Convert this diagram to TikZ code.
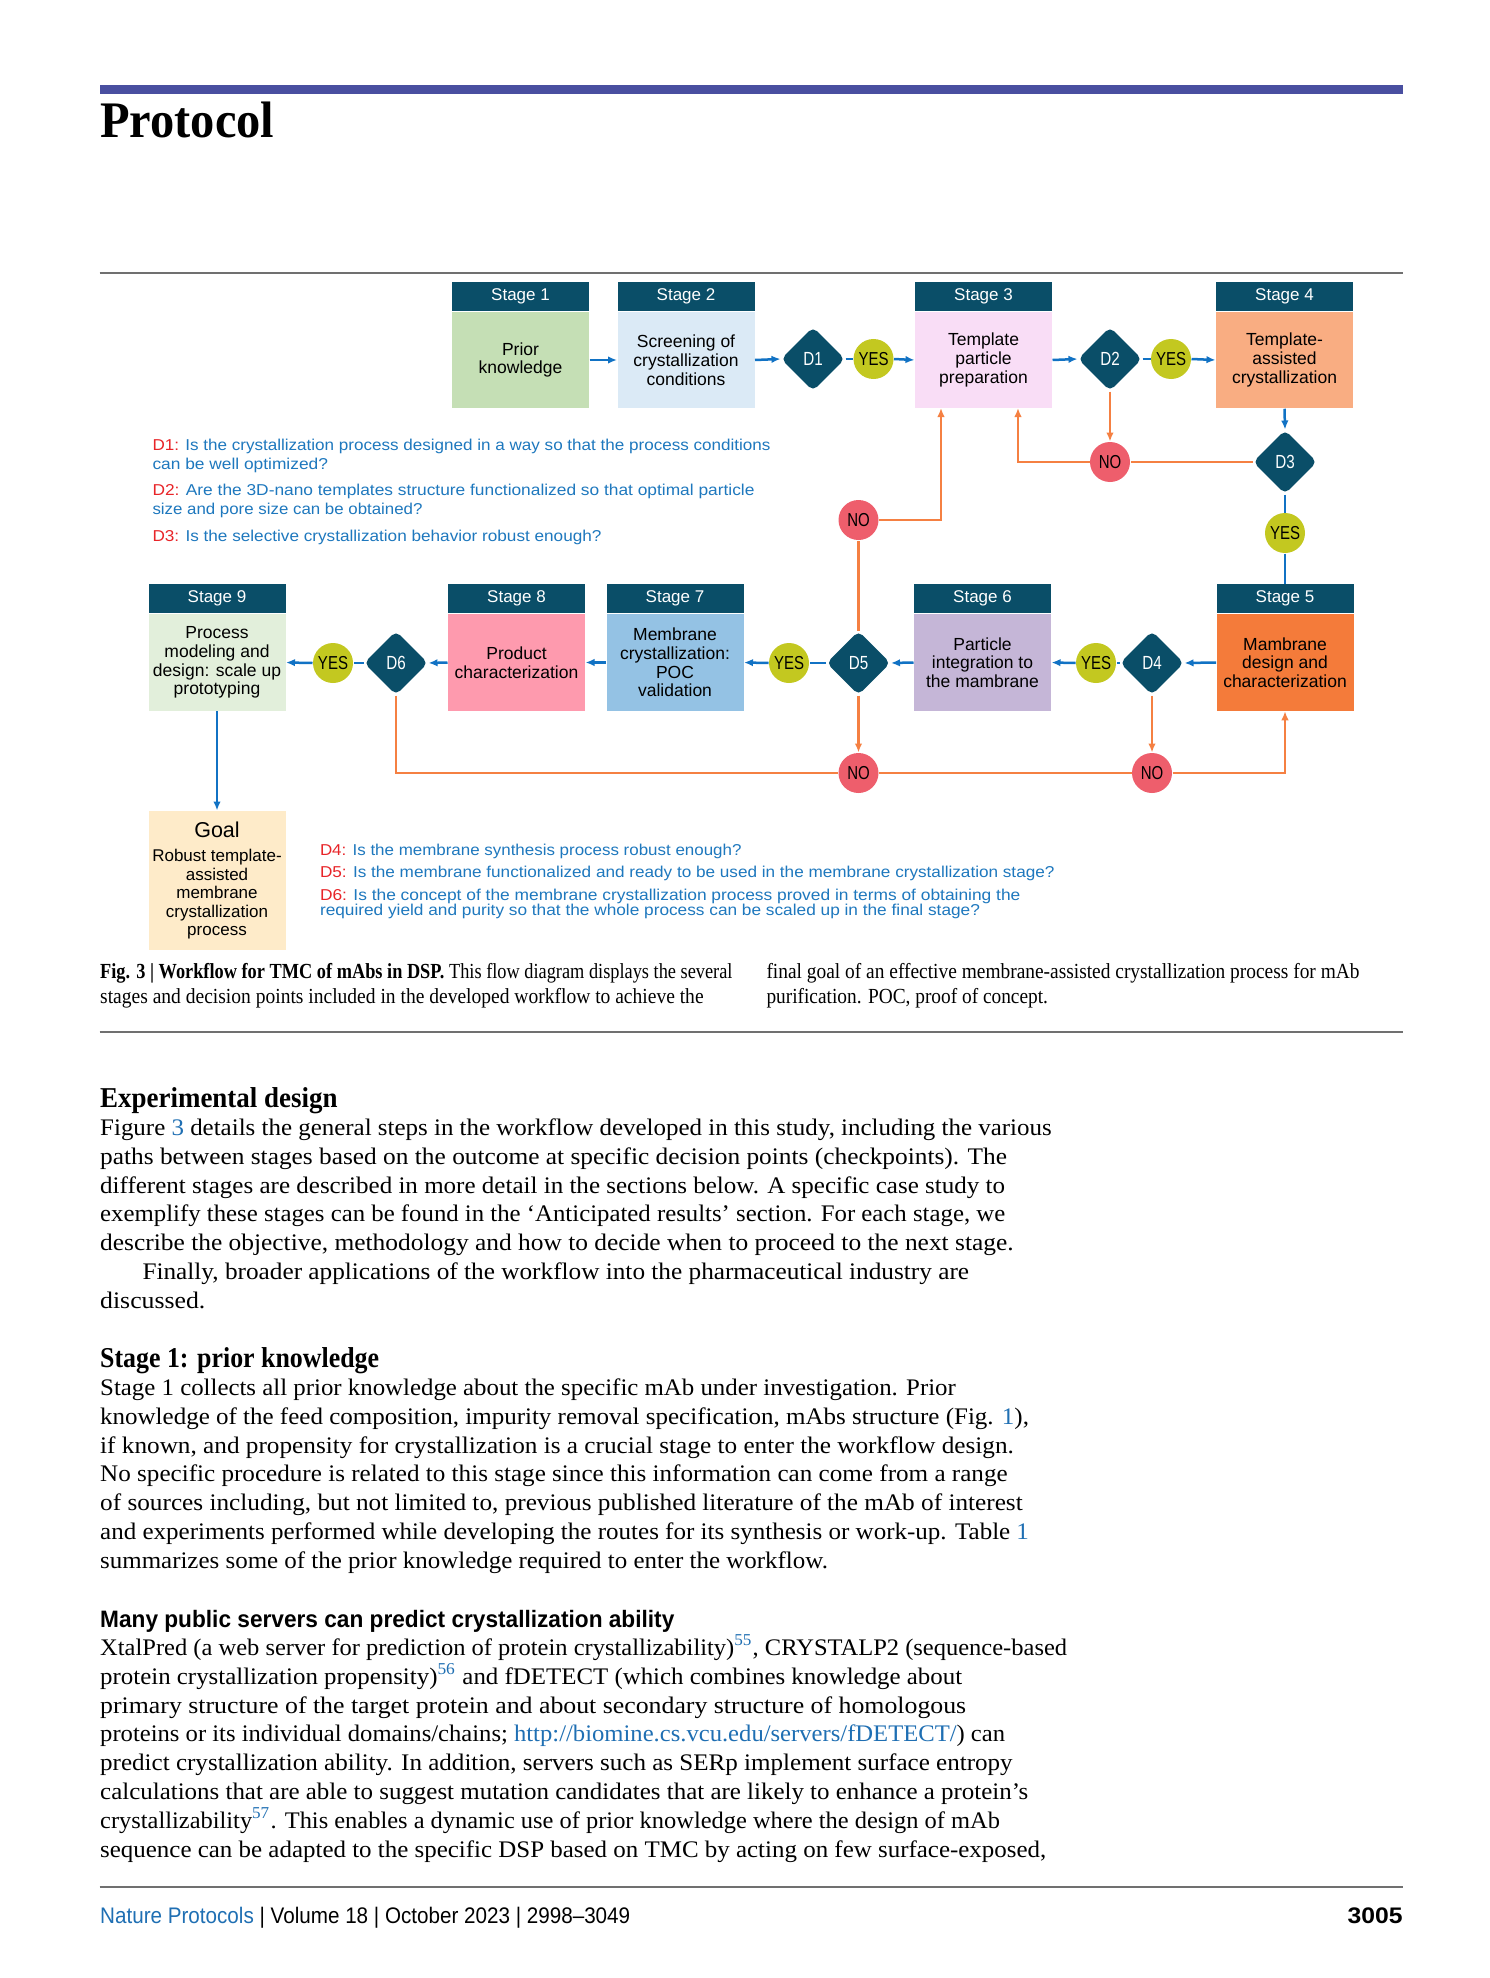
\documentclass[tikz,border=0pt]{standalone}
\usepackage{fontspec}
\usepackage{graphicx}
\setmainfont{Liberation Serif}
\newfontfamily\bodyf{Liberation Serif}
\newfontfamily\sansf{Liberation Sans}
\newfontfamily\sanscf[FakeStretch=0.8]{Liberation Sans}
\usetikzlibrary{shapes.geometric,arrows.meta}
\definecolor{cTeal}{HTML}{0A4E68}
\definecolor{cBlue}{HTML}{1172C4}
\definecolor{cOrange}{HTML}{F58042}
\definecolor{cYes}{HTML}{C3C820}
\definecolor{cNo}{HTML}{EE5E6C}
\definecolor{cQ}{HTML}{1E78BE}
\definecolor{cRed}{HTML}{E82428}
\definecolor{cLink}{HTML}{1F6FB3}
\definecolor{cPurple}{HTML}{494FA0}
\definecolor{cRule}{HTML}{707070}
\definecolor{cSa}{HTML}{C5DFB5}
\definecolor{cSb}{HTML}{DBEAF6}
\definecolor{cSc}{HTML}{F9DDF6}
\definecolor{cSd}{HTML}{F9AD82}
\definecolor{cSe}{HTML}{F47B3A}
\definecolor{cSf}{HTML}{C5B6D7}
\definecolor{cSg}{HTML}{94C2E4}
\definecolor{cSh}{HTML}{FE9AAE}
\definecolor{cSi}{HTML}{E2EFDB}
\definecolor{cGoal}{HTML}{FEEBC9}
\newsavebox\fitbox
\newcounter{tlc}
\newcommand\fitto[2]{\sbox\fitbox{#2}\edef\fitw{\the\wd\fitbox}\pgfmathsetmacro\fitf{#1*0.4/\fitw}\scalebox{\fitf}[1]{\usebox\fitbox}}
\newcommand\fitset[2]{\sbox\fitbox{#2}\edef\fitw{\the\wd\fitbox}\pgfmathsetmacro\fitf{#1*0.4/\fitw}\xdef\bodyscale{\fitf}\scalebox{\fitf}[1]{\usebox\fitbox}}
\newcommand\usescale[1]{\scalebox{\bodyscale}[1]{#1}}
\newcommand\txtline[4]{\stepcounter{tlc}\node[anchor=base west,inner sep=0pt,font=#1] (t\arabic{tlc}) at (#2) {\fitto{#3}{#4}};}
\newcommand\fbody{\bodyf\fontsize{9.5}{11.5}\selectfont}
\newcommand\fcap{\bodyf\fontsize{8.6}{10}\selectfont}
\newcommand\qf{\sansf\fontsize{6.3}{7.5}\selectfont\color{cQ}}
\newcommand\lk[1]{\textcolor{cLink}{#1}}
\newcommand\dq[1]{\textcolor{cRed}{#1}}
\tikzset{
  hdr/.style={fill=cTeal, text=white, minimum width=54.8pt, minimum height=11.6pt, inner sep=0pt, font=\sansf\fontsize{6.8}{7}\selectfont},
  body/.style={minimum width=54.8pt, minimum height=38.6pt, inner sep=0pt, align=center, font=\sansf\fontsize{7}{7.5}\selectfont},
  dec/.style={diamond, fill=cTeal, text=white, minimum width=25.6pt, minimum height=25.6pt, inner sep=0pt, rounded corners=2.2pt, font=\sanscf\fontsize{7.6}{8}\selectfont},
  yesn/.style={circle, fill=cYes, minimum size=16pt, inner sep=0pt, font=\sanscf\fontsize{7.5}{8}\selectfont},
  non/.style={circle, fill=cNo, minimum size=16pt, inner sep=0pt, font=\sanscf\fontsize{7.5}{8}\selectfont},
  bl/.style={draw=cBlue, line width=1pt},
  ba/.style={bl, -{Latex[length=3.6pt,width=3pt]}},
  ol/.style={draw=cOrange, line width=1pt},
  oa/.style={ol, -{Latex[length=3.6pt,width=3pt]}},
  rulel/.style={draw=cRule, line width=0.7pt}
}
\begin{document}
\begin{tikzpicture}[x=0.4pt,y=-0.4pt]
\useasboundingbox (0,0) rectangle (1489,1978);
\fill[white] (0,0) rectangle (1489,1978);
% header
\fill[cPurple] (99.7,85) rectangle (1403,94);
\txtline{\bodyf\fontsize{20.5}{24}\selectfont\bfseries}{99.7,137.7}{174}{Protocol}
\coordinate (r1a) at (99.7,273); \coordinate (r1b) at (1403,273);
\draw[rulel] (r1a) -- (r1b);
% stage bodies
\node[body, fill=cSa] (s1) at (520.5,360) {Prior\\knowledge};
\node[body, fill=cSb] (s2) at (686,360) {Screening of\\crystallization\\conditions};
\node[body, fill=cSc] (s3) at (983.5,360) {Template\\particle\\preparation};
\node[body, fill=cSd] (s4) at (1284.5,360) {Template-\\assisted\\crystallization};
\node[body, fill=cSe] (s5) at (1285,662.5) {Mambrane\\design and\\characterization};
\node[body, fill=cSf] (s6) at (982.5,662.5) {Particle\\integration to\\the mambrane};
\node[body, fill=cSg] (s7) at (675,662.5) {Membrane\\crystallization:\\POC\\validation};
\node[body, fill=cSh] (s8) at (516.5,662.5) {Product\\characterization};
\node[body, fill=cSi] (s9) at (217,662.5) {Process\\modeling and\\design: scale up\\prototyping};
\foreach \s/\t in {s1/Stage 1,s2/Stage 2,s3/Stage 3,s4/Stage 4,s5/Stage 5,s6/Stage 6,s7/Stage 7,s8/Stage 8,s9/Stage 9}
  \node[hdr, anchor=south] (\s h) at (\s.north) {\t};
\node[body, fill=cGoal, minimum height=55.6pt, font=\sansf\fontsize{6.8}{7.4}\selectfont] (goal) at (217,880.5) {{\fontsize{8.6}{9}\selectfont Goal}\\[2.2pt]Robust template-\\assisted\\membrane\\crystallization\\process};
% decisions
\node[dec] (D1) at (813,359) {D1};
\node[dec] (D2) at (1110,359) {D2};
\node[dec] (D3) at (1285,462) {D3};
\node[dec] (D4) at (1152,663) {D4};
\node[dec] (D5) at (858.5,663) {D5};
\node[dec] (D6) at (396,663) {D6};
\node[yesn] (Y1) at (873.5,359) {YES};
\node[yesn] (Y2) at (1171,359) {YES};
\node[yesn] (Y3) at (1285,533) {YES};
\node[yesn] (Y4) at (1096,663) {YES};
\node[yesn] (Y5) at (789,663) {YES};
\node[yesn] (Y6) at (333,663) {YES};
\node[non] (N2) at (1110,462) {NO};
\node[non] (N3) at (858.5,520) {NO};
\node[non] (N4) at (1152,773) {NO};
\node[non] (N5) at (858.5,773) {NO};
\coordinate (s3in1) at (1018,408);
\coordinate (s3in2) at (941,408);
% blue connectors
\draw[ba] (s1.east) -- (s2.west);
\draw[ba] (s2.east) -- (D1.west);
\draw[bl] (D1.east) -- (Y1.west);
\draw[ba] (Y1.east) -- (s3.west);
\draw[ba] (s3.east) -- (D2.west);
\draw[bl] (D2.east) -- (Y2.west);
\draw[ba] (Y2.east) -- (s4.west);
\draw[ba] (s4.south) -- (D3.north);
\draw[bl] (D3.south) -- (Y3.north);
\draw[bl] (Y3.south) -- (s5h.north);
\draw[ba] (s5.west) -- (D4.east);
\draw[bl] (D4.west) -- (Y4.east);
\draw[ba] (Y4.west) -- (s6.east);
\draw[ba] (s6.west) -- (D5.east);
\draw[bl] (D5.west) -- (Y5.east);
\draw[ba] (Y5.west) -- (s7.east);
\draw[ba] (s7.west) -- (s8.east);
\draw[ba] (s8.west) -- (D6.east);
\draw[bl] (D6.west) -- (Y6.east);
\draw[ba] (Y6.west) -- (s9.east);
\draw[ba] (s9.south) -- (goal.north);
% orange connectors
\draw[oa] (D2.south) -- (N2.north);
\draw[ol] (D3.west) -- (N2.east);
\draw[oa] (N2.west) -| (s3in1);
\draw[ol] (D5.north) -- (N3.south);
\draw[oa] (N3.east) -| (s3in2);
\draw[oa] (D5.south) -- (N5.north);
\draw[oa] (D4.south) -- (N4.north);
\draw[ol] (D6.south) |- (N5.west);
\draw[ol] (N5.east) -- (N4.west);
\draw[oa] (N4.east) -| (s5.south);
% questions
\txtline{\qf}{152,450.7}{618}{\dq{D1:} Is the crystallization process designed in a way so that the process conditions}
\txtline{\qf}{152,469.7}{175.5}{can be well optimized?}
\txtline{\qf}{152,495.7}{602}{\dq{D2:} Are the 3D-nano templates structure functionalized so that optimal particle}
\txtline{\qf}{152,514.7}{270}{size and pore size can be obtained?}
\txtline{\qf}{152,541.3}{449}{\dq{D3:} Is the selective crystallization behavior robust enough?}
\txtline{\qf}{319.5,855}{421.5}{\dq{D4:} Is the membrane synthesis process robust enough?}
\txtline{\qf}{319.5,877.3}{734.5}{\dq{D5:} Is the membrane functionalized and ready to be used in the membrane crystallization stage?}
\txtline{\qf}{319.5,900}{700.4}{\dq{D6:} Is the concept of the membrane crystallization process proved in terms of obtaining the}
\txtline{\qf}{319.5,915}{660}{required yield and purity so that the whole process can be scaled up in the final stage?}
% caption
\txtline{\fcap}{99.7,978}{632.3}{{\bfseries Fig. 3 | Workflow for TMC of mAbs in DSP.} This flow diagram displays the several}
\txtline{\fcap}{99.7,1003}{603.4}{stages and decision points included in the developed workflow to achieve the}
\txtline{\fcap}{766,978}{593}{final goal of an effective membrane-assisted crystallization process for mAb}
\txtline{\fcap}{766,1003}{281.5}{purification. POC, proof of concept.}
\coordinate (r2a) at (99.7,1032.3); \coordinate (r2b) at (1403,1032.3);
\draw[rulel] (r2a) -- (r2b);
% Experimental design
\txtline{\bodyf\fontsize{11.5}{13}\selectfont\bfseries}{99.7,1107.5}{237.3}{Experimental design}
\stepcounter{tlc}\node[anchor=base west,inner sep=0pt,font=\fbody] (t\arabic{tlc}) at (99.7,1135.5) {\fitset{951.5}{Figure \lk{3} details the general steps in the workflow developed in this study, including the various}};
\txtline{\fbody}{99.7,1164.3}{906.8}{paths between stages based on the outcome at specific decision points (checkpoints). The}
\txtline{\fbody}{99.7,1193.1}{904.8}{different stages are described in more detail in the sections below. A specific case study to}
\txtline{\fbody}{99.7,1221.9}{905}{exemplify these stages can be found in the ‘Anticipated results’ section. For each stage, we}
\txtline{\fbody}{99.7,1250.7}{913.4}{describe the objective, methodology and how to decide when to proceed to the next stage.}
\txtline{\fbody}{142,1279.5}{826.5}{Finally, broader applications of the workflow into the pharmaceutical industry are}
\txtline{\fbody}{99.7,1308.3}{105.2}{discussed.}
% Stage 1
\txtline{\bodyf\fontsize{11.5}{13}\selectfont\bfseries}{99.7,1367.4}{278.9}{Stage 1: prior knowledge}
\txtline{\fbody}{99.7,1395.5}{855.6}{Stage 1 collects all prior knowledge about the specific mAb under investigation. Prior}
\txtline{\fbody}{99.7,1424.3}{928.8}{knowledge of the feed composition, impurity removal specification, mAbs structure (Fig. \lk{1}),}
\txtline{\fbody}{99.7,1453.1}{913.7}{if known, and propensity for crystallization is a crucial stage to enter the workflow design.}
\txtline{\fbody}{99.7,1481.9}{907.4}{No specific procedure is related to this stage since this information can come from a range}
\txtline{\fbody}{99.7,1510.7}{922.5}{of sources including, but not limited to, previous published literature of the mAb of interest}
\txtline{\fbody}{99.7,1539.5}{928.8}{and experiments performed while developing the routes for its synthesis or work-up. Table \lk{1}}
\stepcounter{tlc}\node[anchor=base west,inner sep=0pt,font=\fbody] (t\arabic{tlc}) at (99.7,1568.3) {\usescale{summarizes some of the prior knowledge required to enter the workflow.}};
% Many public servers
\txtline{\sansf\fontsize{9.5}{11}\selectfont\bfseries}{99.7,1627.4}{574.2}{Many public servers can predict crystallization ability}
\txtline{\fbody}{99.7,1655.4}{967}{XtalPred (a web server for prediction of protein crystallizability)\textsuperscript{\lk{55}}, CRYSTALP2 (sequence-based}
\txtline{\fbody}{99.7,1684.2}{862}{protein crystallization propensity)\textsuperscript{\lk{56}} and fDETECT (which combines knowledge about}
\txtline{\fbody}{99.7,1713.0}{866}{primary structure of the target protein and about secondary structure of homologous}
\txtline{\fbody}{99.7,1741.8}{905}{proteins or its individual domains/chains; \lk{http://biomine.cs.vcu.edu/servers/fDETECT/}) can}
\txtline{\fbody}{99.7,1770.6}{912.4}{predict crystallization ability. In addition, servers such as SERp implement surface entropy}
\stepcounter{tlc}\node[anchor=base west,inner sep=0pt,font=\fbody] (t\arabic{tlc}) at (99.7,1799.4) {\usescale{calculations that are able to suggest mutation candidates that are likely to enhance a protein’s}};
\txtline{\fbody}{99.7,1828.2}{899.8}{crystallizability\textsuperscript{\lk{57}}. This enables a dynamic use of prior knowledge where the design of mAb}
\stepcounter{tlc}\node[anchor=base west,inner sep=0pt,font=\fbody] (t\arabic{tlc}) at (99.7,1857.0) {\usescale{sequence can be adapted to the specific DSP based on TMC by acting on few surface-exposed,}};
% footer
\coordinate (r3a) at (99.7,1886.7); \coordinate (r3b) at (1403,1886.7);
\draw[rulel] (r3a) -- (r3b);
\txtline{\sansf\fontsize{9}{10}\selectfont}{99.7,1923}{530}{\lk{Nature Protocols} | Volume 18 | October 2023 | 2998–3049}
\node[anchor=base east,inner sep=0pt,font=\sansf\fontsize{9}{10}\selectfont\bfseries] (pgno) at (1403,1923) {\fitto{55}{3005}};
\end{tikzpicture}
\end{document}
